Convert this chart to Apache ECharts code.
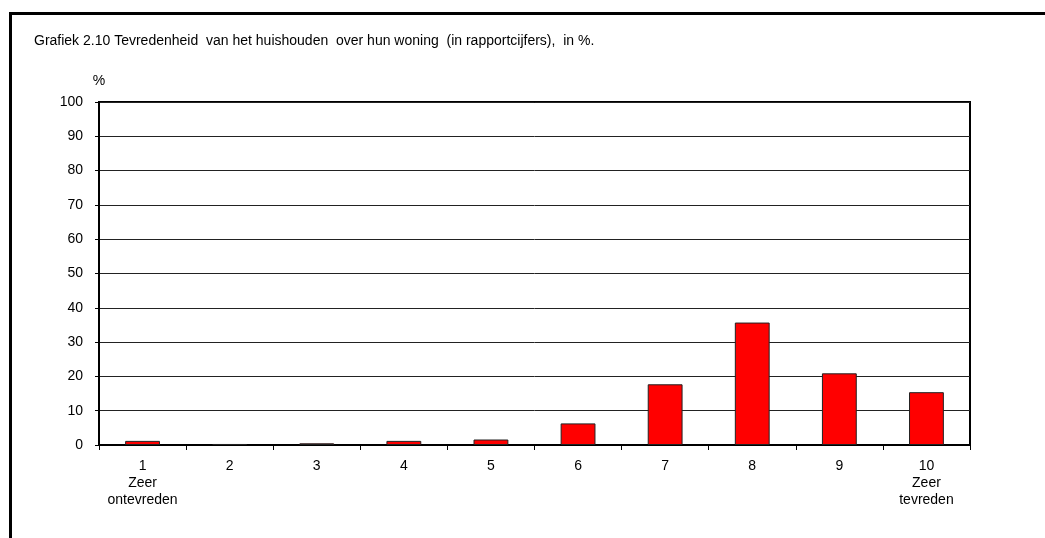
<!DOCTYPE html>
<html>
<head>
<meta charset="utf-8">
<script src="https://cdn.jsdelivr.net/npm/echarts@6/dist/echarts.min.js"></script>
<style>
html,body{margin:0;padding:0;background:#fff;overflow:hidden;}
#frame{position:absolute;left:9px;top:12px;width:1100px;height:600px;border-left:3px solid #000;border-top:3px solid #000;}
#main{position:absolute;left:0;top:0;width:1045px;height:538px;}
</style>
</head>
<body>
<div id="frame"></div>
<div id="main"></div>
<script>
// rapportcijfers 1..10
var categories=['1','2','3','4','5','6','7','8','9','10'];
var subLabels={'1':'Zeer\nontevreden','10':'Zeer\ntevreden'};
// aandeel huishoudens, in %
var values=[1.2,0.3,0.5,1.2,1.6,6.3,17.7,35.7,20.9,15.4];
var yTicks={min:0,max:100,interval:10};

var myChart=echarts.init(document.getElementById('main'));
var option={
    animation:false,
    textStyle:{fontFamily:'Liberation Sans, Arial, sans-serif'},
    title:{
        text:'Grafiek 2.10 Tevredenheid  van het huishouden  over hun woning  (in rapportcijfers),  in %.',
        left:29,top:29,
        textStyle:{fontSize:14,fontWeight:'normal',color:'#000',fontFamily:'Liberation Sans, Arial, sans-serif'}
    },
    grid:{left:99,right:75,top:102,bottom:93,show:true,borderColor:'#000',borderWidth:2,backgroundColor:'transparent'},
    xAxis:{
        type:'category',
        data:categories,
        axisLine:{lineStyle:{color:'#000',width:2}},
        axisTick:{show:true,interval:0,length:5,lineStyle:{color:'#000',width:1}},
        axisLabel:{
            interval:0,margin:13,fontSize:14,color:'#000',lineHeight:17,
            formatter:function(v){return subLabels[v]?v+'\n'+subLabels[v]:v;}
        }
    },
    yAxis:{
        type:'value',
        min:yTicks.min,max:yTicks.max,interval:yTicks.interval,
        name:'%',nameLocation:'end',nameGap:14,
        nameTextStyle:{fontSize:14,color:'#000',align:'center',padding:[0,0,0,0]},
        axisLine:{show:true,lineStyle:{color:'#000',width:2}},
        axisTick:{show:true,length:4,lineStyle:{color:'#000'}},
        axisLabel:{margin:16,fontSize:14,color:'#000'},
        splitLine:{lineStyle:{color:'#222',width:1}}
    },
    series:[{
        type:'bar',
        data:values,
        barWidth:'40%',
        itemStyle:{color:'#ff0000',borderColor:'#222',borderWidth:1}
    }]
};
myChart.setOption(option);
</script>
</body>
</html>
